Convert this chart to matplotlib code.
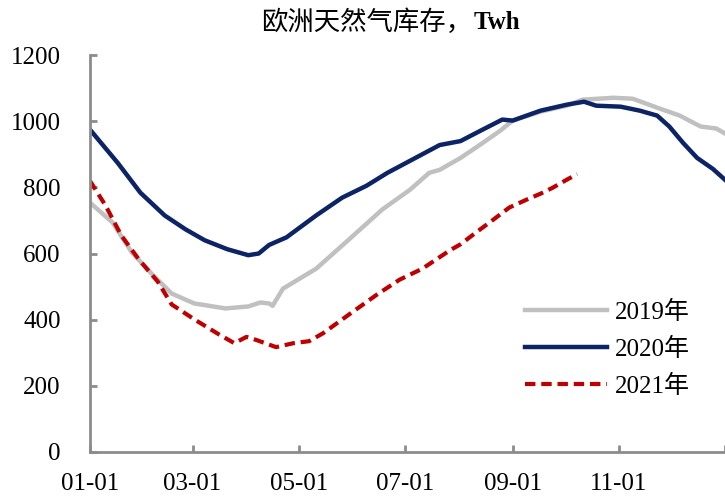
import matplotlib
matplotlib.use('Agg')
import matplotlib.pyplot as plt

plt.rcParams['font.family'] = ['Liberation Serif', 'Noto Sans CJK SC', 'DejaVu Sans']

# day of year -> storage (TWh)
days_2019 = [0, 13, 24, 36, 47, 60, 78, 91, 98, 103, 105, 111, 130, 149, 168, 184, 195,
             201, 213, 224, 236, 243, 259, 274, 283, 301, 312, 326, 339, 351, 360, 365]
stock_2019 = [754, 694, 604, 536, 479, 449, 434, 440, 452, 449, 442, 494, 554, 643, 733, 793, 844,
              853, 889, 928, 972, 1002, 1029, 1047, 1065, 1071, 1068, 1041, 1017, 984, 978, 963]

days_2020 = [0, 16, 29, 43, 55, 66, 79, 91, 97, 103, 113, 130, 145, 159, 171, 201, 213,
             224, 237, 243, 259, 274, 284, 291, 305, 316, 326, 333, 341, 349, 358, 365]
stock_2020 = [975, 874, 784, 715, 673, 640, 613, 595, 600, 626, 649, 715, 769, 805, 844, 928, 940,
              970, 1005, 1002, 1032, 1050, 1059, 1047, 1044, 1032, 1017, 984, 934, 889, 856, 823]

days_2021 = [0, 9, 18, 28, 39, 47, 60, 74, 83, 90, 96, 107, 117, 126, 134, 149, 165, 178,
             191, 207, 213, 222, 232, 241, 251, 259, 266, 274, 280]
stock_2021 = [820, 745, 655, 583, 515, 446, 401, 356, 329, 348, 338, 317, 329, 335, 359, 416, 476, 521,
              554, 610, 628, 664, 703, 739, 763, 781, 799, 823, 840]

tick_days = [0, 59, 120, 181, 243, 304, 365]
tick_labels = ['01-01', '03-01', '05-01', '07-01', '09-01', '11-01', '']

fig = plt.figure(figsize=(7.25, 4.98), dpi=100)
ax = fig.add_axes([0.124, 0.0924, 0.876, 0.797])

ax.plot(days_2019, stock_2019, color='#c0c0c0', lw=3.2, label='2019年')
ax.plot(days_2020, stock_2020, color='#0c2366', lw=3.2, label='2020年')
ax.plot(days_2021, stock_2021, color='#c00000', lw=3.0, dashes=(2.5, 1.4), label='2021年')

ax.set_xlim(0, 365)
ax.set_ylim(0, 1200)
ax.set_yticks(range(0, 1201, 200))
ax.set_xticks(tick_days)
ax.set_xticklabels(tick_labels)

for s in ['top', 'right']:
    ax.spines[s].set_visible(False)
for s in ['left', 'bottom']:
    ax.spines[s].set_color('#8c8c8c')
    ax.spines[s].set_linewidth(2)
ax.tick_params(axis='both', direction='in', length=5, width=2, color='#8c8c8c', labelsize=18)
ax.tick_params(axis='y', pad=21)
ax.tick_params(axis='x', pad=15)

fig.text(0.651, 0.954, '欧洲天然气库存，', ha='right', va='center', fontsize=19,
         family=['Noto Sans CJK SC'])
fig.text(0.653, 0.954, 'Twh', ha='left', va='center', fontsize=18, fontweight='bold')

ax.legend(loc='center left', bbox_to_anchor=(0.724, 0.299), bbox_transform=fig.transFigure,
          frameon=False, fontsize=18, handlelength=3.3, handletextpad=0.3,
          labelspacing=0.55, borderpad=0, borderaxespad=0)

fig.savefig('out.png', dpi=100)
